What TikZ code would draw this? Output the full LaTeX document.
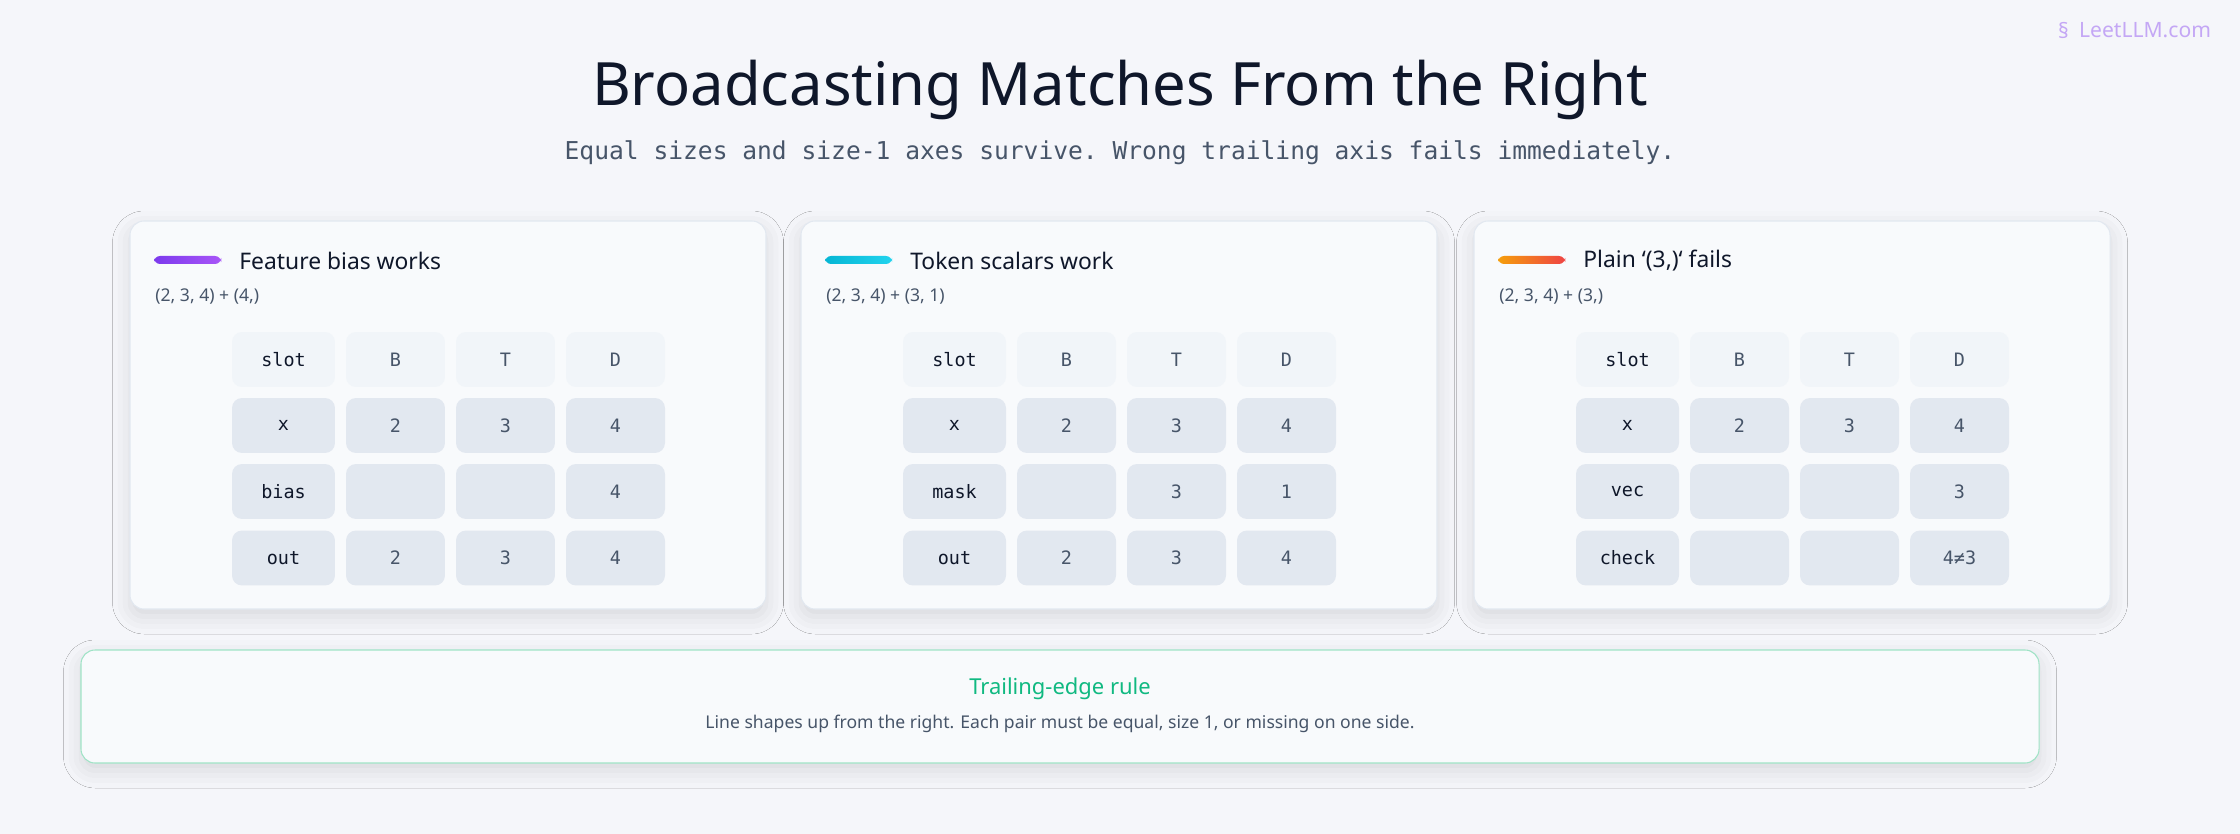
\documentclass[tikz,border=0pt]{standalone}
\usepackage{fontspec}
\setmainfont{Noto Sans}
\setmonofont{DejaVu Sans Mono}
\usetikzlibrary{shadows.blur}
\definecolor{bg}{HTML}{F5F6FA}
\definecolor{cardbg}{HTML}{F8FAFC}
\definecolor{cardline}{HTML}{E2E8F0}
\definecolor{cellbg}{HTML}{E2E8F0}
\definecolor{headbg}{HTML}{F1F5F9}
\definecolor{ink}{HTML}{0F172A}
\definecolor{muted}{HTML}{475569}
\definecolor{grn}{HTML}{10B981}
\definecolor{grnline}{HTML}{9FE3C6}
\definecolor{logo}{HTML}{C4A7F5}
\tikzset{
  card/.style={draw=cardline, fill=cardbg, rounded corners=0.28cm, line width=0.6pt,
    blur shadow={shadow xshift=0pt, shadow yshift=-0.15cm, shadow blur radius=0.35cm, shadow opacity=12}},
  cellbox/.style={fill=cellbg, rounded corners=0.2cm, minimum height=1.1cm, inner sep=0pt,
    font=\ttfamily\fontsize{10.5}{12}\selectfont, text=muted},
  headbox/.style={cellbox, fill=headbg},
  labbox/.style={cellbox, text=ink},
  cardtitle/.style={anchor=west, font=\bfseries\fontsize{13}{15}\selectfont, text=ink, inner sep=0pt},
  formula/.style={anchor=west, font=\fontsize{10}{12}\selectfont, text=muted, inner sep=0pt},
}
\newcommand{\mycard}[9]{%
  % #1 name #2 xoffset #3 c1 #4 c2 #5 title #6 formula #7 row1 label #8 row rest, #9 unused
}
\begin{document}
\begin{tikzpicture}[x=0.02cm, y=-0.02cm]
\fill[bg] (0,0) rectangle (2240,834);
\useasboundingbox (0,0) rectangle (2240,834);

\node (title) at (1120,90) {\fontsize{34}{40}\selectfont\bfseries\color{ink}Broadcasting Matches From the Right};
\node (sub) at (1120,153) {\ttfamily\fontsize{14}{16}\selectfont\color{muted}Equal sizes and size-1 axes survive. Wrong trailing axis fails immediately.};

\node (logo) at (2145,30) {\fontsize{12}{14}\selectfont\bfseries\color{logo}LeetLLM.com};
\node[anchor=east, inner sep=2pt] (logoicon) at (logo.west) {\fontsize{12}{14}\selectfont\color{logo}\textbf{§}};

% cards
\foreach \ox/\ca/\cb/\nm/\tt/\ff/\ra/\rb/\rc/\rd/\re/\rf/\rg/\rh in {
  0/7C3AED/A855F7/a/{Feature bias works}/{(2, 3, 4) + (4,)}/bias/{}/{}/4/out/2/3/4,
  671/06B6D4/22D3EE/b/{Token scalars work}/{(2, 3, 4) + (3, 1)}/mask/{}/3/1/out/2/3/4,
  1344/F59E0B/EF4444/c/{Plain `(3,)` fails}/{(2, 3, 4) + (3,)}/vec/{}/{}/3/check/{}/{}/{4≠3}}{
  \begin{scope}[xshift=\ox*0.02cm]
  \definecolor{ca}{HTML}{\ca}\definecolor{cb}{HTML}{\cb}
  \draw[card] (130,221) rectangle (766,609);
  \shade[left color=ca, right color=cb, rounded corners=3.5pt] (154,256) rectangle (221,264);
  \node[cardtitle] (t\nm) at (239,261) {\tt};
  \node[formula] (f\nm) at (155,297) {\ff};
  \node[headbox, minimum width=2.06cm, text=ink] (\nm h1) at (283.5,359.5) {slot};
  \node[headbox, minimum width=1.98cm] (\nm h2) at (395.5,359.5) {B};
  \node[headbox, minimum width=1.98cm] (\nm h3) at (505.5,359.5) {T};
  \node[headbox, minimum width=1.98cm] (\nm h4) at (615.5,359.5) {D};
  \node[labbox, minimum width=2.06cm] (\nm x1) at (283.5,425.5) {x};
  \node[cellbox, minimum width=1.98cm] (\nm x2) at (395.5,425.5) {2};
  \node[cellbox, minimum width=1.98cm] (\nm x3) at (505.5,425.5) {3};
  \node[cellbox, minimum width=1.98cm] (\nm x4) at (615.5,425.5) {4};
  \node[labbox, minimum width=2.06cm] (\nm y1) at (283.5,491.5) {\ra};
  \node[cellbox, minimum width=1.98cm] (\nm y2) at (395.5,491.5) {\rb};
  \node[cellbox, minimum width=1.98cm] (\nm y3) at (505.5,491.5) {\rc};
  \node[cellbox, minimum width=1.98cm] (\nm y4) at (615.5,491.5) {\rd};
  \node[labbox, minimum width=2.06cm] (\nm z1) at (283.5,558) {\re};
  \node[cellbox, minimum width=1.98cm] (\nm z2) at (395.5,558) {\rf};
  \node[cellbox, minimum width=1.98cm] (\nm z3) at (505.5,558) {\rg};
  \node[cellbox, minimum width=1.98cm] (\nm z4) at (615.5,558) {\rh};
  \end{scope}
}

% bottom rule box
\draw[card, draw=grnline] (81,650) rectangle (2039,763);
\node (rt) at (1060,689) {\fontsize{12.5}{15}\selectfont\bfseries\color{grn}Trailing-edge rule};
\node (rx) at (1060,724) {\fontsize{10}{12}\selectfont\color{muted}Line shapes up from the right. Each pair must be equal, size 1, or missing on one side.};
\end{tikzpicture}
\end{document}
